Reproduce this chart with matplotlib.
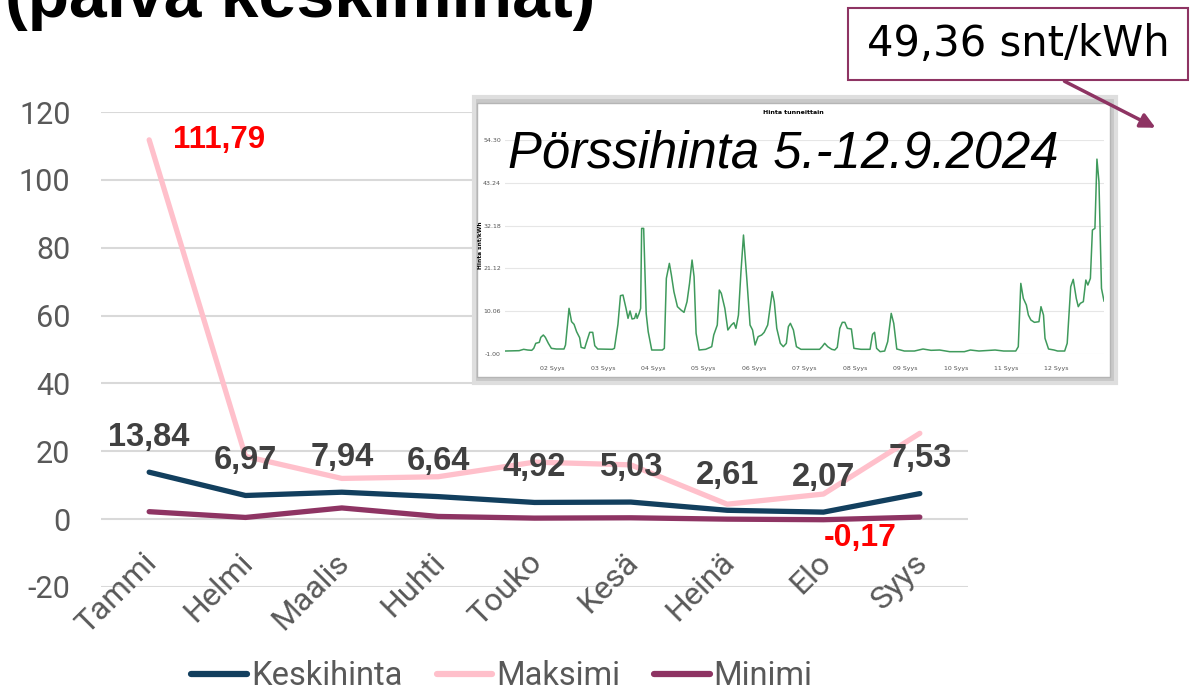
import matplotlib
matplotlib.use("Agg")
import matplotlib.pyplot as plt
from matplotlib.patches import Rectangle, FancyArrowPatch
from matplotlib.lines import Line2D
import matplotlib.transforms as mtransforms

# kuukausittaiset hinnat (snt/kWh)
months = ["Tammi", "Helmi", "Maalis", "Huhti", "Touko", "Kesä", "Heinä", "Elo", "Syys"]
avg_price = [13.84, 6.97, 7.94, 6.64, 4.92, 5.03, 2.61, 2.07, 7.53]
max_price = [111.79, 18.5, 12.0, 12.5, 16.8, 16.0, 4.4, 7.4, 25.3]
min_price = [2.2, 0.5, 3.3, 0.8, 0.3, 0.4, 0.0, -0.17, 0.6]
avg_labels = ["13,84", "6,97", "7,94", "6,64", "4,92", "5,03", "2,61", "2,07", "7,53"]

# pörssihinta tunneittain (luettu kuvasta), päivä syyskuuta
hour_days = [1.06, 1.34, 1.43, 1.51, 1.59, 1.63, 1.67, 1.74, 1.77, 1.82, 1.86, 1.92, 1.98,
             2.08, 2.23, 2.26, 2.33, 2.38, 2.43, 2.48, 2.54, 2.57, 2.64, 2.67, 2.74, 2.80,
             2.84, 2.90, 3.19, 3.23, 3.30, 3.35, 3.40, 3.46, 3.50, 3.54, 3.58, 3.63, 3.66,
             3.68, 3.72, 3.75, 3.77, 3.81, 3.86, 3.90, 3.97, 4.18, 4.22, 4.26, 4.32, 4.36,
             4.41, 4.48, 4.55, 4.61, 4.67, 4.72, 4.77, 4.81, 4.85, 4.91, 5.04, 5.16, 5.20,
             5.27, 5.31, 5.35, 5.42, 5.48, 5.55, 5.60, 5.64, 5.69, 5.74, 5.79, 5.86, 5.92,
             5.97, 6.02, 6.08, 6.15, 6.20, 6.27, 6.32, 6.36, 6.40, 6.45, 6.52, 6.58, 6.64,
             6.68, 6.72, 6.78, 6.84, 6.93, 7.30, 7.35, 7.40, 7.46, 7.54, 7.60, 7.65, 7.70,
             7.75, 7.80, 7.85, 7.93, 7.98, 8.12, 8.30, 8.35, 8.39, 8.43, 8.50, 8.59, 8.65,
             8.72, 8.77, 8.83, 8.98, 9.18, 9.35, 9.51, 9.68, 9.88, 10.17, 10.29, 10.46,
             10.78, 10.95, 11.19, 11.24, 11.29, 11.34, 11.40, 11.44, 11.49, 11.56, 11.65,
             11.69, 11.74, 11.77, 11.84, 11.95, 12.02, 12.16, 12.21, 12.28, 12.33, 12.39,
             12.43, 12.47, 12.53, 12.58, 12.62, 12.67, 12.71, 12.76, 12.80, 12.84, 12.89,
             12.94]
hour_price = [-0.23, -0.14, 0.21, 0.03, -0.05, 0.46, 1.76, 2.01, 3.31, 3.91, 3.31, 1.76, 0.46,
              0.29, 0.29, 1.32, 10.80, 7.35, 6.66, 4.77, 3.22, 0.72, 0.46, 1.76, 4.60, 4.60,
              1.15, 0.29, 0.21, 0.46, 6.66, 14.07, 14.24, 10.80, 8.21, 10.11, 8.04, 8.21, 9.50,
              8.21, 9.50, 10.80, 31.46, 31.46, 9.50, 4.77, 0.03, 0.03, 0.46, 18.54, 22.42, 19.41,
              15.10, 11.23, 10.37, 9.76, 12.52, 17.25, 23.28, 18.98, 4.34, 0.03, 0.21, 0.89, 3.91,
              6.49, 15.53, 14.67, 10.80, 5.20, 6.49, 7.09, 5.63, 9.07, 20.27, 29.74, 17.68, 6.49,
              5.20, 1.32, 3.48, 3.91, 4.60, 6.49, 11.23, 15.10, 12.52, 5.63, 1.76, 0.89, 1.76,
              6.06, 6.92, 5.20, 0.89, 0.21, 0.21, 0.89, 1.76, 0.89, 0.21, 0.03, 0.72, 5.63,
              7.18, 7.18, 5.63, 5.46, 0.46, 0.21, 0.21, 4.08, 4.60, 0.46, -0.40, -0.23, 2.19,
              9.50, 6.92, 0.29, -0.23, -0.23, 0.29, -0.05, 0.03, -0.40, -0.40, 0.03, -0.23,
              0.03, -0.23, -0.23, 0.89, 17.25, 13.38, 11.66, 9.07, 7.78, 7.18, 7.35,
              11.23, 9.07, 3.05, 0.29, 0.03, -0.23, -0.23, 1.76, 16.39, 18.29, 13.38,
              11.23, 12.09, 12.52, 18.11, 16.82, 18.54, 31.03, 31.46, 49.36, 43.51, 15.96,
              12.69]
inset_yticks = [-1.00, 10.06, 21.12, 32.18, 43.24, 54.30]
inset_days = [2, 3, 4, 5, 6, 7, 8, 9, 10, 11, 12]

W, H = 1196, 694
fig = plt.figure(figsize=(W / 100, H / 100), dpi=100)

def fx(px):
    return px / W

def fy(py):
    return 1 - py / H

navy = "#123f5e"
pink = "#ffc0cb"
plum = "#8e3463"
gray = "#595959"

ax = fig.add_axes([fx(101), fy(587), fx(968 - 101), (587 - 112) / H])
x = list(range(len(months)))
ax.plot(x, max_price, color=pink, lw=3.8, solid_capstyle="round", label="Maksimi", zorder=3)
ax.plot(x, min_price, color=plum, lw=3.8, solid_capstyle="round", label="Minimi", zorder=3)
ax.plot(x, avg_price, color=navy, lw=3.8, solid_capstyle="round", label="Keskihinta", zorder=4)
ax.set_xlim(-0.5, 8.5)
ax.set_ylim(-20, 120)
ax.set_yticks(range(-20, 121, 20))
ax.set_yticklabels([str(v) for v in range(-20, 121, 20)], fontsize=22, color=gray,
                   fontfamily="Roboto")
ax.tick_params(axis="y", length=0, pad=22)
ax.set_xticks([])
ax.grid(axis="y", color="#d9d9d9", lw=1.5)
ax.set_axisbelow(True)
for s in ax.spines.values():
    s.set_visible(False)

# kuukausien nimet vinossa
for i, m in enumerate(months):
    tr = mtransforms.offset_copy(ax.transData, fig=fig, x=2, y=21, units="points")
    ax.text(i, -20, m, rotation=45, ha="right", va="center", rotation_mode="anchor",
            transform=tr, fontsize=23, color=gray, fontfamily="Roboto", clip_on=False)

for i, lab in enumerate(avg_labels):
    ax.annotate(lab, (i, avg_price[i]), xytext=(0, 25), textcoords="offset points",
                ha="center", va="center", fontsize=23.5, fontweight="bold",
                color="#404040", fontfamily="Liberation Sans", zorder=6)
ax.annotate("111,79", (0, max_price[0]), xytext=(17, 0), textcoords="offset points",
            ha="left", va="center", fontsize=22.5, fontweight="bold", color="red",
            fontfamily="Liberation Sans")
ax.annotate("-0,17", (7, min_price[7]), xytext=(0, -13), textcoords="offset points",
            ha="left", va="center", fontsize=23, fontweight="bold", color="red",
            fontfamily="Liberation Sans")

# otsikko (yläreuna leikattu kuten alkuperäisessä)
fig.text(fx(5), fy(17), "(päivä keskiminat)", fontsize=49, fontweight="bold",
         fontfamily="Liberation Sans", color="black", va="baseline", ha="left")

# selite
handles = [Line2D([], [], color=navy, lw=4.5, solid_capstyle="round"),
           Line2D([], [], color=pink, lw=4.5, solid_capstyle="round"),
           Line2D([], [], color=plum, lw=4.5, solid_capstyle="round")]
leg = fig.legend(handles, ["Keskihinta", "Maksimi", "Minimi"], loc="center",
                 bbox_to_anchor=(fx(502), fy(676)), ncol=3, frameon=False,
                 prop={"family": "Roboto", "size": 23.5}, handlelength=1.7,
                 handletextpad=0.12, columnspacing=1.05, borderpad=0.1)
for t in leg.get_texts():
    t.set_color(gray)

# upotettu kuvakaappaus pörssihinnasta
shadow = Rectangle((fx(474), fy(383)), fx(1116 - 474), (383 - 97) / H,
                   transform=fig.transFigure, facecolor="#c8c8c8", edgecolor="#dedede",
                   lw=3, zorder=2)
fig.add_artist(shadow)
panel = Rectangle((fx(477), fy(377)), fx(1110 - 477), (377 - 103) / H,
                  transform=fig.transFigure, facecolor="white", edgecolor="#b5b5b5",
                  lw=1, zorder=3)
fig.add_artist(panel)

iax = fig.add_axes([fx(505), fy(354), fx(1104 - 505), (354 - 140) / H], zorder=5)
iax.patch.set_alpha(0)
iax.plot(hour_days, hour_price, color="#3f9a5c", lw=1.1)
iax.set_xlim(1.06, 12.94)
iax.set_ylim(-1.0, 54.3)
iax.set_yticks(inset_yticks)
iax.set_yticklabels([f"{v:.2f}" for v in inset_yticks], fontsize=4.5, color="#555555")
iax.set_xticks(inset_days)
iax.set_xticklabels([f"{d:02d} Syys" for d in inset_days], fontsize=4.5, color="#555555")
iax.tick_params(length=0, pad=3)
iax.tick_params(axis="x", pad=9)
iax.grid(axis="y", color="#e6e6e6", lw=0.8)
for s in iax.spines.values():
    s.set_visible(False)
fig.text(fx(793), fy(112), "Hinta tunneittain", fontsize=4.5, fontweight="bold",
         ha="center", va="center", zorder=6)
fig.text(fx(480), fy(245), "Hinta snt/kWh", fontsize=4.2, fontweight="bold",
         rotation=90, ha="center", va="center", zorder=6)
fig.text(fx(508), fy(168), "Pörssihinta 5.-12.9.2024", fontsize=36.5, fontstyle="italic",
         fontfamily="Liberation Sans", ha="left", va="baseline", zorder=7)

# hintahuippu-laatikko ja nuoli
box = Rectangle((fx(848), fy(80)), fx(1188 - 848), (80 - 8) / H, transform=fig.transFigure,
                facecolor="white", edgecolor=plum, lw=1.5, zorder=8)
fig.add_artist(box)
fig.text(fx(1018), fy(44), "49,36 snt/kWh", fontsize=30, fontfamily="DejaVu Sans",
         ha="center", va="center", zorder=9)
arrow = FancyArrowPatch((fx(1062), fy(80)), (fx(1158), fy(129)), transform=fig.transFigure,
                        arrowstyle="-|>", mutation_scale=22, lw=2.5, color=plum, zorder=9)
fig.add_artist(arrow)

fig.savefig("out.png", dpi=100)
